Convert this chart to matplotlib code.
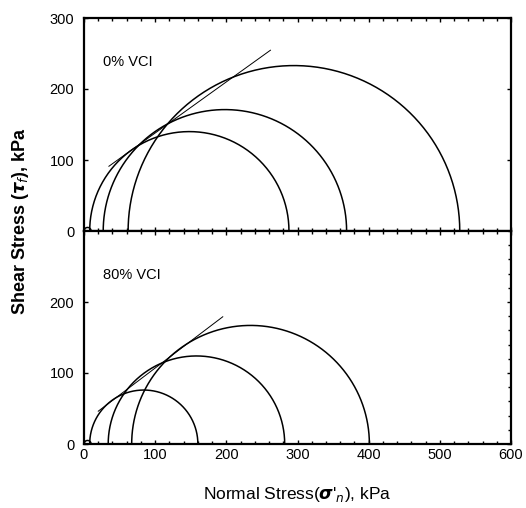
import numpy as np
import matplotlib
matplotlib.use("Agg")
import matplotlib.pyplot as plt
from matplotlib.ticker import MultipleLocator

# Mohr circles: (sigma3, sigma1) in kPa
circles_0 = [(0, 10), (8, 288), (27, 369), (62, 528)]
circles_80 = [(0, 10), (8, 160), (34, 282), (67, 401)]
# Failure envelopes: (sigma_start, sigma_end, cohesion, slope)
env_0 = (35, 262, 66, 0.72)
env_80 = (20, 195, 31, 0.76)
labels = ["0% VCI", "80% VCI"]
xticks = [0, 100, 200, 300, 400, 500, 600]

plt.rcParams['font.family'] = ['Liberation Sans', 'DejaVu Sans']
plt.rcParams['mathtext.fontset'] = 'dejavusans'

fig = plt.figure(figsize=(5.26, 5.08), dpi=100)
L, W = 84/526, 427/526
ax1 = fig.add_axes([L, 1-231/508, W, 213/508])
ax2 = fig.add_axes([L, 1-444/508, W, 213/508])

def draw(ax, circles, env, label):
    for s3, s1 in circles:
        c = (s1+s3)/2
        r = (s1-s3)/2
        t = np.linspace(0, np.pi, 300)
        ax.plot(c + r*np.cos(t), r*np.sin(t), color='black', lw=1.1)
    s0, s1e, coh, slope = env
    xs = np.array([s0, s1e])
    ax.plot(xs, coh + slope*xs, color='black', lw=0.7)
    ax.text(26, 238, label, fontsize=10.5, ha='left', va='center')
    ax.set_xlim(0, 600)
    ax.set_ylim(0, 300)
    ax.xaxis.set_major_locator(MultipleLocator(100))
    ax.xaxis.set_minor_locator(MultipleLocator(20))
    ax.yaxis.set_major_locator(MultipleLocator(100))
    ax.tick_params(which='both', direction='in', top=True, right=True,
                   labelsize=10.5, width=1.0, pad=7)
    ax.tick_params(which='major', length=3)
    ax.tick_params(which='minor', length=2)
    for sp in ax.spines.values():
        sp.set_linewidth(1.6)

draw(ax1, circles_0, env_0, labels[0])
draw(ax2, circles_80, env_80, labels[1])

ax1.set_xticks(xticks)
ax1.set_xticklabels([])
ax1.set_yticks([0, 100, 200, 300])
ax2.set_yticks([0, 100, 200])
ax2.set_xticks(xticks)
ax2.yaxis.set_minor_locator(MultipleLocator(20))
ax2.tick_params(axis='y', which='minor', left=False, right=True)
ax2.tick_params(axis='x', pad=3)

fig.text(297/526, 1-495/508, r"Normal Stress($\boldsymbol{\sigma}$'$_n$), kPa",
         fontsize=12.5, ha='center', va='center')
fig.text(21/526, 1-221/508, r"Shear Stress ($\boldsymbol{\tau}_f$), kPa", rotation=90,
         fontsize=13, fontweight='bold', ha='center', va='center')

fig.savefig("out.png", dpi=100)
